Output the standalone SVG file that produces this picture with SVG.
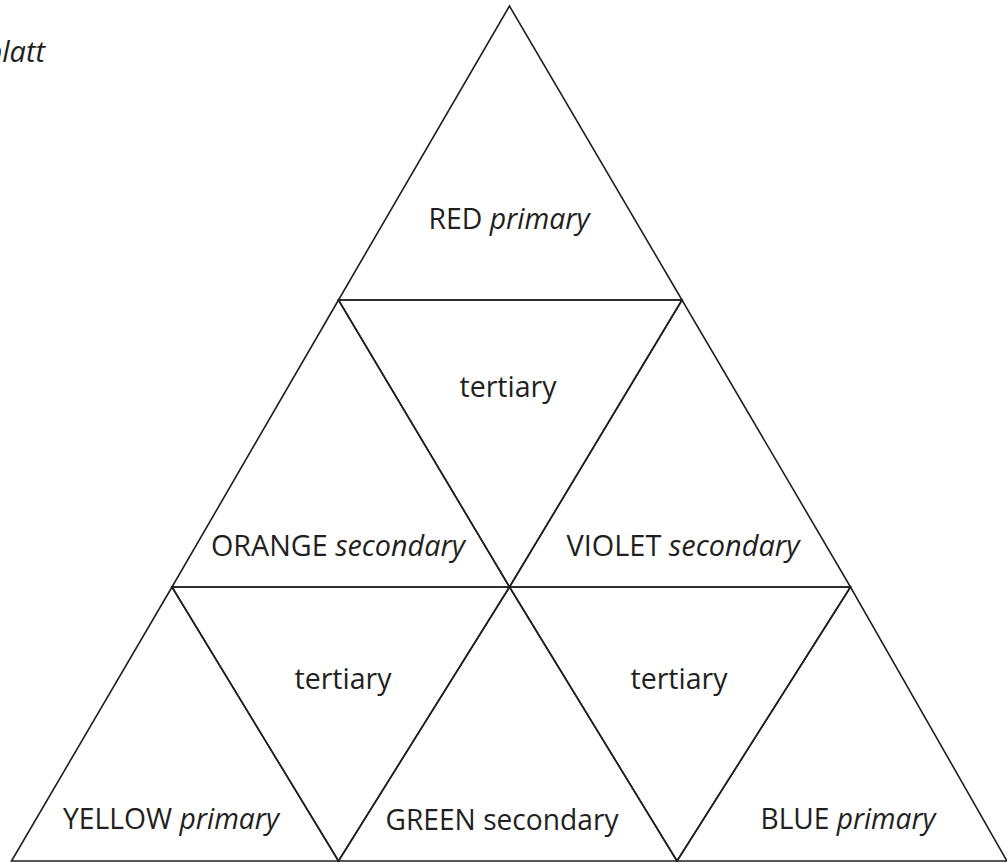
<svg xmlns="http://www.w3.org/2000/svg" width="1007" height="862" viewBox="0 0 1007 862">
<style>
.tri{fill:none;stroke:#231f20;stroke-width:1.6;stroke-linejoin:miter}
.lbl{font-family:"Open Sans","Liberation Sans",sans-serif;font-size:29px;fill:#231f20;text-anchor:middle}
.it{font-style:italic}
</style>
<rect width="1007" height="862" fill="#fff"/>
<g id="title"><text class="lbl it" x="45" y="62" style="text-anchor:end">blatt</text></g>
<g id="red"><polygon class="tri" points="509.5,6 338.5,300 682,300"/><text class="lbl" x="509" y="229" textLength="161" lengthAdjust="spacingAndGlyphs">RED <tspan class="it">primary</tspan></text></g>
<g id="orange"><polygon class="tri" points="338.5,300 172,587 509.5,587"/><text class="lbl" x="338" y="556" textLength="254" lengthAdjust="spacingAndGlyphs">ORANGE <tspan class="it">secondary</tspan></text></g>
<g id="tertiary-top"><polygon class="tri" points="338.5,300 682,300 509.5,587"/><text class="lbl" x="508" y="397" textLength="97" lengthAdjust="spacingAndGlyphs">tertiary</text></g>
<g id="violet"><polygon class="tri" points="682,300 509.5,587 850.5,587"/><text class="lbl" x="683" y="556" textLength="233" lengthAdjust="spacingAndGlyphs">VIOLET <tspan class="it">secondary</tspan></text></g>
<g id="yellow"><polygon class="tri" points="172,587 11.5,861 338.5,861"/><text class="lbl" x="171" y="829" textLength="216" lengthAdjust="spacingAndGlyphs">YELLOW <tspan class="it">primary</tspan></text></g>
<g id="tertiary-left"><polygon class="tri" points="172,587 509.5,587 338.5,861"/><text class="lbl" x="343" y="689" textLength="97" lengthAdjust="spacingAndGlyphs">tertiary</text></g>
<g id="green"><polygon class="tri" points="509.5,587 338.5,861 677,861"/><text class="lbl" x="502" y="830" textLength="233" lengthAdjust="spacingAndGlyphs">GREEN secondary</text></g>
<g id="tertiary-right"><polygon class="tri" points="509.5,587 850.5,587 677,861"/><text class="lbl" x="679" y="689" textLength="97" lengthAdjust="spacingAndGlyphs">tertiary</text></g>
<g id="blue"><polygon class="tri" points="850.5,587 677,861 1007,861"/><text class="lbl" x="848" y="829" textLength="175" lengthAdjust="spacingAndGlyphs">BLUE <tspan class="it">primary</tspan></text></g>
<g id="connectors"></g>
</svg>
